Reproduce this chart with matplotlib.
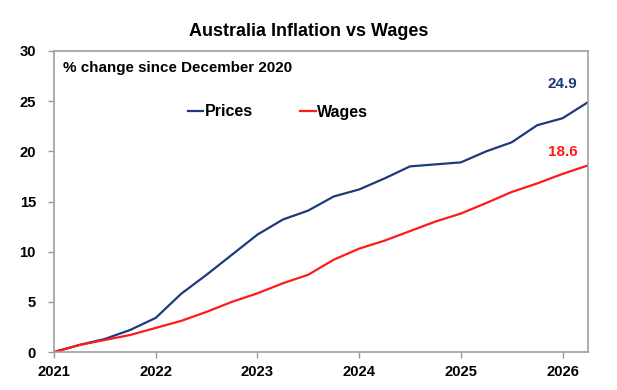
import matplotlib.pyplot as plt

plt.rcParams['font.family'] = ['Liberation Sans', 'DejaVu Sans']
plt.rcParams['font.weight'] = 'bold'

# quarter ends, as fractional years (Dec 2020 = 2021.0)
quarters = [2021.0, 2021.25, 2021.5, 2021.75, 2022.0, 2022.25, 2022.5, 2022.75,
            2023.0, 2023.25, 2023.5, 2023.75, 2024.0, 2024.25, 2024.5, 2024.75,
            2025.0, 2025.25, 2025.5, 2025.75, 2026.0, 2026.25]
prices = [0.0, 0.7, 1.3, 2.2, 3.4, 5.8, 7.7, 9.7,
          11.7, 13.2, 14.1, 15.5, 16.2, 17.3, 18.5, 18.7,
          18.9, 20.0, 20.9, 22.6, 23.3, 24.9]
wages = [0.0, 0.7, 1.2, 1.7, 2.4, 3.1, 4.0, 5.0,
         5.85, 6.85, 7.7, 9.2, 10.3, 11.1, 12.05, 13.0,
         13.8, 14.85, 15.95, 16.8, 17.75, 18.6]
year_ticks = [2021, 2022, 2023, 2024, 2025, 2026]
y_ticks = [0, 5, 10, 15, 20, 25, 30]

navy = '#1F3A7A'
red = '#FF1A1A'

W, H = 617, 390
fig = plt.figure(figsize=(6.17, 3.9), dpi=100)
ax = fig.add_axes([54 / W, 1 - 352 / H, (588 - 54) / W, (352 - 51) / H])

ax.plot(quarters, prices, color=navy, lw=1.6, label='Prices')
ax.plot(quarters, wages, color=red, lw=1.6, label='Wages')

ax.set_xlim(2021, 2026.25)
ax.set_ylim(0, 30)
ax.set_xticks(year_ticks)
ax.set_yticks(y_ticks)
ax.tick_params(axis='both', labelsize=10.6, colors='#9A9A9A', labelcolor='black',
               length=4, width=1)
ax.tick_params(axis='y', pad=9)
ax.tick_params(axis='x', pad=5)
for lab in ax.get_xticklabels() + ax.get_yticklabels():
    lab.set_fontweight('bold')
for s in ax.spines.values():
    s.set_color('#A0A0A0')
    s.set_linewidth(1.2)

fig.text(309 / W, 1 - 31.5 / H, 'Australia Inflation vs Wages', fontsize=13,
         fontweight='bold', ha='center', va='center')
fig.text(63 / W, 1 - 68 / H, '% change since December 2020',
         fontsize=10.9, fontweight='bold', va='center')
ax.text(2026.0, 26.7, '24.9', color=navy, fontsize=11,
        fontweight='bold', ha='center', va='center')
ax.text(2026.0, 19.9, '18.6', color=red, fontsize=11,
        fontweight='bold', ha='center', va='center')

ax.legend(loc='center left', bbox_to_anchor=(188 / W, 1 - 112 / H),
          bbox_transform=fig.transFigure, ncol=2, frameon=False,
          borderpad=0, borderaxespad=0,
          handlelength=0.95, handletextpad=0.08, columnspacing=3.0,
          prop={'size': 11.5, 'weight': 'bold'})

fig.savefig('out.png', dpi=100)
